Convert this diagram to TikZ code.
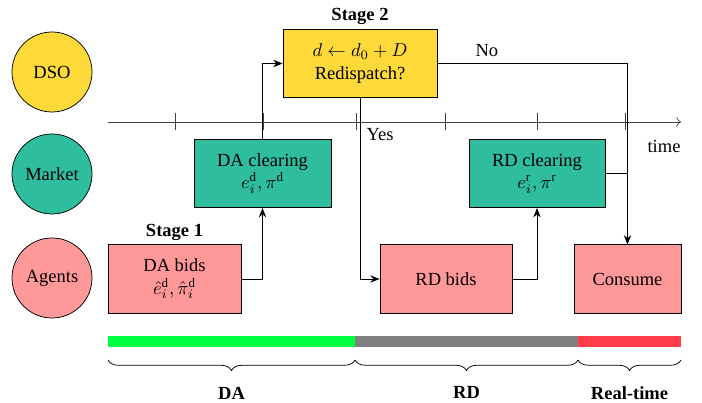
\documentclass[tikz,border=0pt]{standalone}
\usepackage{amsmath, amssymb}
\usepackage{fontspec}
\setmainfont{Liberation Serif}
\usepackage{xcolor}
\usepackage{tikz}
\usetikzlibrary{positioning, decorations.pathreplacing, arrows.meta}

\definecolor{dsoyellow}{RGB}{253,217,58}
\definecolor{mktteal}{RGB}{46,189,159}
\definecolor{agtpink}{RGB}{255,152,152}
\definecolor{dagreen}{RGB}{0,255,64}
\definecolor{rdgray}{RGB}{128,128,128}
\definecolor{rtred}{RGB}{255,60,72}

\begin{document}
\begin{tikzpicture}[x=0.019cm, y=0.019cm,
	actor/.style={circle, draw, minimum size=1.52cm, inner sep=0pt},
	stepbox/.style={rectangle, draw, align=center, minimum height=1.3cm},
	arr/.style={-{Stealth[length=5pt, width=4pt]}},
	stagelbl/.style={font=\bfseries, inner sep=2pt},
	phase/.style={decorate, decoration={brace, mirror, amplitude=0.2cm}}]

\useasboundingbox (0,0) rectangle (702,403);

% actors
\node[actor, fill=dsoyellow] (dso)    at (52,331) {DSO};
\node[actor, fill=mktteal]   (market) at (52,229) {Market};
\node[actor, fill=agtpink]   (agents) at (52,125) {Agents};

% time axis
\draw[->, black!75] (108,281) -- (681,281);
\foreach \t in {175,263,356,445,537,625}{
	\draw[black!75] (\t,273) -- (\t,290);
}
\node (timelbl) at (664,257) {time};

% steps
\node[stepbox, fill=dsoyellow, minimum width=2.93cm] (stage2) at (360,339.5)
	{$d \leftarrow d_0 + D$\\ Redispatch?};
\node[stepbox, fill=mktteal, minimum width=2.60cm] (daclear) at (262.5,229.5)
	{DA clearing\\ $e_i^{\mathrm{d}}, \pi^{\mathrm{d}}$};
\node[stepbox, fill=mktteal, minimum width=2.58cm] (rdclear) at (537,229.5)
	{RD clearing\\ $e_i^{\mathrm{r}}, \pi^{\mathrm{r}}$};
\node[stepbox, fill=agtpink, minimum width=2.53cm] (dabids) at (174.5,124)
	{DA bids\\ $\hat{e}_i^{\mathrm{d}}, \hat{\pi}_i^{\mathrm{d}}$};
\node[stepbox, fill=agtpink, minimum width=2.51cm] (rdbids) at (446,124) {RD bids};
\node[stepbox, fill=agtpink, minimum width=2.03cm] (consume) at (627.5,124) {Consume};

\node[stagelbl, above=0pt of stage2] (s2lbl) {Stage 2};
\node[stagelbl, above=0pt of dabids] (s1lbl) {Stage 1};

% flow
\draw[arr] (dabids.east) -| (daclear.south);
\draw[arr] (daclear.north) |- (stage2.west);
\draw[arr] (stage2.south) |- (rdbids.west) node[pos=0.1, right] {Yes};
\draw[arr] (rdbids.east) -| (rdclear.south);
\draw[arr] (stage2.east) -| (consume.north) node[pos=0.13, above] {No};
\draw (rdclear.east) -- (rdclear.east -| consume.north);

% phases
\fill[dagreen] (108,56) rectangle (355,67);
\fill[rdgray]  (355,56) rectangle (578,67);
\fill[rtred]   (578,56) rectangle (681,67);

\draw[phase] (108,43) -- (355,43) node[midway, below=11pt, font=\bfseries] (dalbl) {DA};
\draw[phase] (355,43) -- (578,43) node[midway, below=11pt, font=\bfseries] (rdlbl) {RD};
\draw[phase] (578,43) -- (681,43) node[midway, below=11pt, font=\bfseries] (rtlbl) {Real-time};

\end{tikzpicture}
\end{document}
